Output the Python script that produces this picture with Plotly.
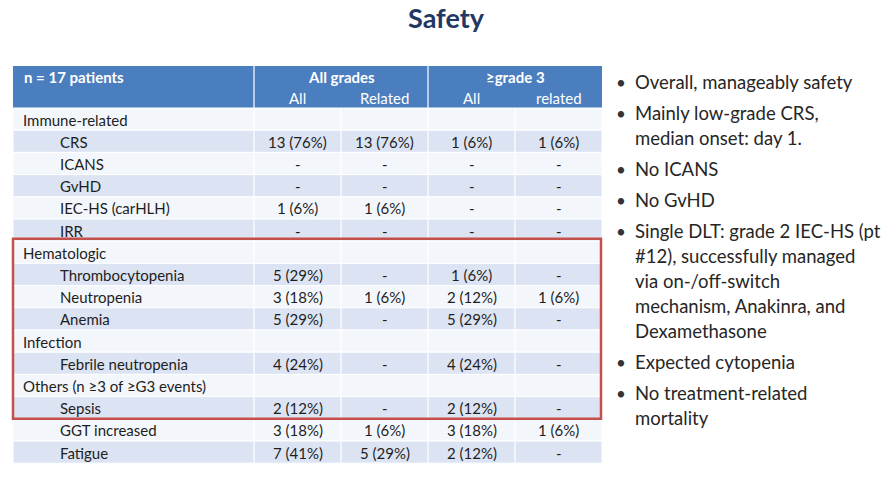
import plotly.graph_objects as go

# table content
categories = ["Immune-related", "CRS", "ICANS", "GvHD", "IEC-HS (carHLH)", "IRR",
              "Hematologic", "Thrombocytopenia", "Neutropenia", "Anemia",
              "Infection", "Febrile neutropenia",
              "Others (n \u22653 of \u2265G3 events)", "Sepsis", "GGT increased", "Fatigue"]
is_section = [True, False, False, False, False, False,
              True, False, False, False,
              True, False,
              True, False, False, False]
all_grades_all = ["", "13 (76%)", "-", "-", "1 (6%)", "-",
                  "", "5 (29%)", "3 (18%)", "5 (29%)",
                  "", "4 (24%)",
                  "", "2 (12%)", "3 (18%)", "7 (41%)"]
all_grades_related = ["", "13 (76%)", "-", "-", "1 (6%)", "-",
                      "", "-", "1 (6%)", "-",
                      "", "-",
                      "", "-", "1 (6%)", "5 (29%)"]
g3_all = ["", "1 (6%)", "-", "-", "-", "-",
          "", "1 (6%)", "2 (12%)", "5 (29%)",
          "", "4 (24%)",
          "", "2 (12%)", "3 (18%)", "2 (12%)"]
g3_related = ["", "1 (6%)", "-", "-", "-", "-",
              "", "-", "1 (6%)", "-",
              "", "-",
              "", "-", "1 (6%)", "-"]
header_groups = ["All grades", "\u2265grade 3"]
sub_headers = ["All", "Related", "All", "related"]
corner_label = "n = 17 patients"
highlight_rows = (6, 13)  # first / last row inside the red box

bullets = [
    ["Overall, manageably safety"],
    ["Mainly low-grade CRS,", "median onset: day 1."],
    ["No ICANS"],
    ["No GvHD"],
    ["Single DLT: grade 2 IEC-HS (pt", "#12), successfully managed",
     "via on-/off-switch", "mechanism, Anakinra, and", "Dexamethasone"],
    ["Expected cytopenia"],
    ["No treatment-related", "mortality"],
]

W, H = 891, 477
FONT = "Lato"
HEAD_BLUE = "#4A7EBF"
BAND_DARK = "#DCE4F3"
BAND_LIGHT = "#F3F7FC"
TXT = "#1E1E1E"

col_edges = [13, 254, 341, 428, 515, 602]
head_top, head_mid, head_bot = 66, 87, 108
row_h = 22.2

fig = go.Figure()
fig.add_trace(go.Scatter(x=[0, W], y=[0, H], mode="markers",
                         marker=dict(opacity=0), hoverinfo="skip", showlegend=False))

shapes = []
ann = []

# header block
shapes.append(dict(type="rect", x0=col_edges[0], x1=col_edges[-1], y0=head_top, y1=head_bot,
                   fillcolor=HEAD_BLUE, line_width=0, layer="below"))
for xe in (col_edges[1], col_edges[3]):
    shapes.append(dict(type="line", x0=xe, x1=xe, y0=head_top, y1=head_bot,
                       line=dict(color="white", width=1.2)))
ann.append(dict(x=col_edges[0] + 9, y=(head_top + head_mid) / 2, text="<b>" + corner_label + "</b>",
                xanchor="left", font=dict(size=15, color="white")))
for g, name in enumerate(header_groups):
    xc = col_edges[1 + 2 * g + 1]
    ann.append(dict(x=xc, y=(head_top + head_mid) / 2, text="<b>" + name + "</b>",
                    font=dict(size=15, color="white")))
for c, name in enumerate(sub_headers):
    xc = (col_edges[c + 1] + col_edges[c + 2]) / 2
    ann.append(dict(x=xc, y=(head_mid + head_bot) / 2, text=name,
                    font=dict(size=15, color="white")))

# body rows
value_cols = [all_grades_all, all_grades_related, g3_all, g3_related]
for i, cat in enumerate(categories):
    y0 = head_bot + i * row_h
    y1 = y0 + row_h
    yc = (y0 + y1) / 2
    shapes.append(dict(type="rect", x0=col_edges[0], x1=col_edges[-1], y0=y0, y1=y1,
                       fillcolor=BAND_DARK if i % 2 else BAND_LIGHT,
                       line=dict(color="white", width=1), layer="below"))
    for xe in col_edges[1:-1]:
        shapes.append(dict(type="line", x0=xe, x1=xe, y0=y0, y1=y1,
                           line=dict(color="white", width=1.2), layer="below"))
    ann.append(dict(x=col_edges[0] + (8 if is_section[i] else 45), y=yc + 0.5, text=cat,
                    xanchor="left", font=dict(size=15, color=TXT)))
    for c, vals in enumerate(value_cols):
        xc = (col_edges[c + 1] + col_edges[c + 2]) / 2
        ann.append(dict(x=xc, y=yc + 0.5, text=vals[i], font=dict(size=15, color=TXT)))

# red highlight box
r0, r1 = highlight_rows
shapes.append(dict(type="rect", x0=col_edges[0], x1=col_edges[-1] - 1,
                   y0=head_bot + r0 * row_h - 2.5, y1=head_bot + (r1 + 1) * row_h,
                   line=dict(color="#C4504B", width=2.5), fillcolor="rgba(0,0,0,0)"))

# bullet list on the right
y = 82
for block in bullets:
    for j, line in enumerate(block):
        if j == 0:
            ann.append(dict(x=621, y=y, text="\u2022", font=dict(size=17, color="#333333")))
        ann.append(dict(x=633, y=y, text=line, xanchor="left",
                        font=dict(size=18.5, color="#262626")))
        y += 25
    y += 6

for a in ann:
    a.setdefault("xanchor", "center")
    a.update(xref="x", yref="y", yanchor="middle", showarrow=False)

# title, anchored at its top so it stays inside the page
ann.append(dict(x=446, y=0, xref="x", yref="y", xanchor="center", yanchor="top",
                borderpad=0, showarrow=False, text="<b>Safety</b>",
                font=dict(size=27, color="#1F3864")))

for s in shapes:
    s.update(xref="x", yref="y")

fig.update_layout(
    width=W, height=H,
    margin=dict(l=0, r=0, t=0, b=0),
    paper_bgcolor="white", plot_bgcolor="white",
    font=dict(family=FONT),
    xaxis=dict(range=[0, W], visible=False, fixedrange=True),
    yaxis=dict(range=[H, 0], visible=False, fixedrange=True),
    shapes=shapes, annotations=ann, showlegend=False,
)

# drop the default page margin so the figure sits at the window's top-left corner
fig.write_html("out.html", config={"displayModeBar": False},
               post_script="document.body.style.margin='0px';")
